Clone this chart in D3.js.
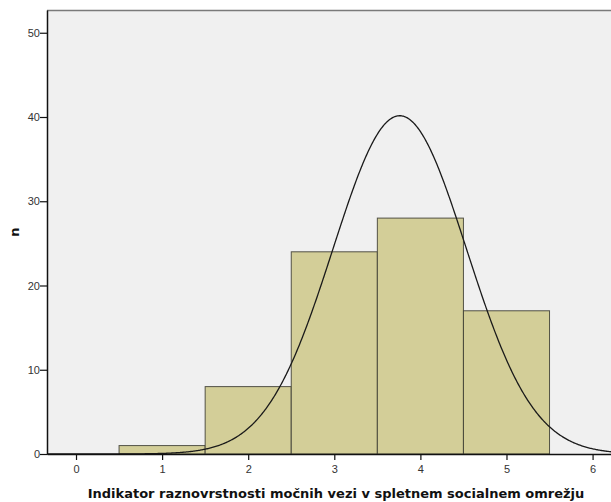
<!DOCTYPE html>
<html>
<head>
<meta charset="utf-8">
<script src="https://cdn.jsdelivr.net/npm/d3@7"></script>
<style>
  html, body { margin: 0; padding: 0; background: #ffffff; }
  svg { display: block; font-family: "Liberation Sans", Arial, sans-serif; }
</style>
</head>
<body>
<svg id="chart" width="611" height="502"></svg>
<script>
// Histogram bins (lower edge, upper edge) and frequencies
const binStarts = [0.5, 1.5, 2.5, 3.5, 4.5];
const binEnds   = [1.5, 2.5, 3.5, 4.5, 5.5];
const counts    = [1, 8, 24, 28, 17];

// Fitted normal curve parameters
const curveMean = 3.76;
const curveSd = 0.775;
const curveN = 78;
const binWidth = 1;

const xTicks = [0, 1, 2, 3, 4, 5, 6];
const yTicks = [0, 10, 20, 30, 40, 50];

const xTitle = "Indikator raznovrstnosti močnih vezi v spletnem socialnem omrežju";
const yTitle = "n";

const svg = d3.select("#chart");
const plot = { left: 47, top: 10, right: 624, bottom: 454 };

const x = d3.scaleLinear().domain([-0.337, 6.365]).range([plot.left, plot.right]);
const y = d3.scaleLinear().domain([0, 52.7]).range([plot.bottom, plot.top]);

// Plot background
svg.append("rect")
  .attr("x", plot.left).attr("y", plot.top)
  .attr("width", plot.right - plot.left).attr("height", plot.bottom - plot.top)
  .attr("fill", "#f0f0f0");

// Top frame line
svg.append("line")
  .attr("x1", plot.left).attr("x2", plot.right)
  .attr("y1", plot.top + 0.5).attr("y2", plot.top + 0.5)
  .attr("stroke", "#7a7a7a").attr("stroke-width", 1.5);

// Bars
const bins = counts.map((c, i) => ({ x0: binStarts[i], x1: binEnds[i], n: c }));
svg.append("g").selectAll("rect").data(bins).join("rect")
  .attr("x", d => x(d.x0))
  .attr("y", d => y(d.n))
  .attr("width", d => x(d.x1) - x(d.x0))
  .attr("height", d => y(0) - y(d.n))
  .attr("fill", "#d3ce98")
  .attr("stroke", "#3a3a30")
  .attr("stroke-opacity", 0.85)
  .attr("stroke-width", 1);

// Normal curve
const pdf = v => curveN * binWidth * Math.exp(-0.5 * ((v - curveMean) / curveSd) ** 2) / (curveSd * Math.sqrt(2 * Math.PI));
const xs = d3.range(x.domain()[0], x.domain()[1] + 0.001, 0.01);
svg.append("path")
  .datum(xs)
  .attr("fill", "none")
  .attr("stroke", "#1a1a1a")
  .attr("stroke-width", 1.3)
  .attr("d", d3.line().x(v => x(v)).y(v => y(pdf(v))).curve(d3.curveLinear));

// Axes
const xAxis = d3.axisBottom(x).tickValues(xTicks).tickFormat(d3.format("d")).tickSize(6).tickSizeOuter(0);
const gx = svg.append("g").attr("transform", `translate(0,${plot.bottom})`).call(xAxis);
gx.select(".domain").attr("stroke", "#111").attr("stroke-width", 1.5);
gx.selectAll(".tick line").attr("stroke", "#111").attr("stroke-width", 1.2);
gx.selectAll(".tick text").attr("fill", "#333").attr("font-size", 11).attr("dy", "0.95em");

const yAxis = d3.axisLeft(y).tickValues(yTicks).tickFormat(d3.format("d")).tickSize(7).tickSizeOuter(0);
const gy = svg.append("g").attr("transform", `translate(${plot.left},0)`).call(yAxis);
gy.select(".domain").attr("stroke", "#111").attr("stroke-width", 1.5);
gy.selectAll(".tick line").attr("stroke", "#111").attr("stroke-width", 1.2);
gy.selectAll(".tick text").attr("fill", "#333").attr("font-size", 11).attr("x", -7);

// Titles
svg.append("text")
  .attr("x", 336).attr("y", 498)
  .attr("text-anchor", "middle")
  .attr("font-family", "'DejaVu Sans', sans-serif")
  .attr("font-weight", "bold").attr("font-size", 13).attr("fill", "#111")
  .text(xTitle);

svg.append("text")
  .attr("transform", "translate(19,232) rotate(-90)")
  .attr("text-anchor", "middle")
  .attr("font-family", "'DejaVu Sans', sans-serif")
  .attr("font-weight", "bold").attr("font-size", 13).attr("fill", "#111")
  .text(yTitle);
</script>
</body>
</html>
